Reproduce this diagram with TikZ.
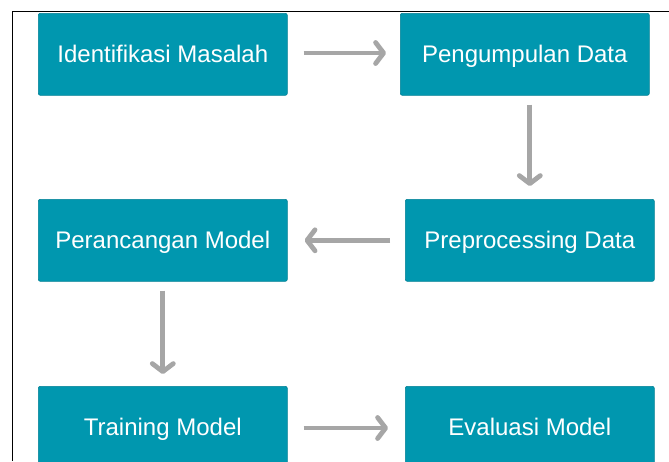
\documentclass[tikz,border=0pt]{standalone}
\usepackage{fontspec}
\setmainfont{Liberation Sans}
\usetikzlibrary{arrows.meta}
\definecolor{boxteal}{HTML}{0097AF}
\definecolor{arrgray}{HTML}{A6A6A6}
\tikzset{
  stepbox/.style={fill=boxteal, draw=boxteal!85!black, line width=0.6pt, rounded corners=2pt,
    minimum width=249pt, minimum height=82pt, inner sep=0pt, text=white,
    text height=17pt, text depth=0pt,
    font=\fontsize{24}{28}\selectfont, anchor=north west},
  flow/.style={draw=arrgray, line width=4.8pt,
    -{Straight Barb[length=8pt,width=21pt,line cap=round,line join=round]}}
}
\begin{document}
\begin{tikzpicture}[x=1pt,y=-1pt]
\clip (0,0) rectangle (669,461);
\useasboundingbox (0,0) rectangle (669,461);
\fill[white] (0,0) rectangle (669,461);
\draw[black, line width=1pt] (12,461) -- (12,11) -- (669,11);
\node[stepbox] (A) at (38,13) {Identifikasi Masalah};
\node[stepbox] (B) at (400,13) {Pengumpulan Data};
\node[stepbox] (C) at (405,199) {Preprocessing Data};
\node[stepbox] (D) at (38,199) {Perancangan Model};
\node[stepbox] (E) at (38,386) {Training Model};
\node[stepbox] (F) at (405,386) {Evaluasi Model};
\draw[flow, shorten <=16pt, shorten >=14pt] (A.east |- 0,53) -- (B.west |- 0,53);
\draw[flow, shorten <=9pt, shorten >=13pt] (C.north |- B.south) -- (C.north);
\draw[flow, shorten <=15pt, shorten >=17pt] (C.west) -- (D.east);
\draw[flow, shorten <=9pt, shorten >=12pt] (D.south) -- (E.north);
\draw[flow, shorten <=16pt, shorten >=17pt] (E.east |- 0,428) -- (F.west |- 0,428);
\end{tikzpicture}
\end{document}
